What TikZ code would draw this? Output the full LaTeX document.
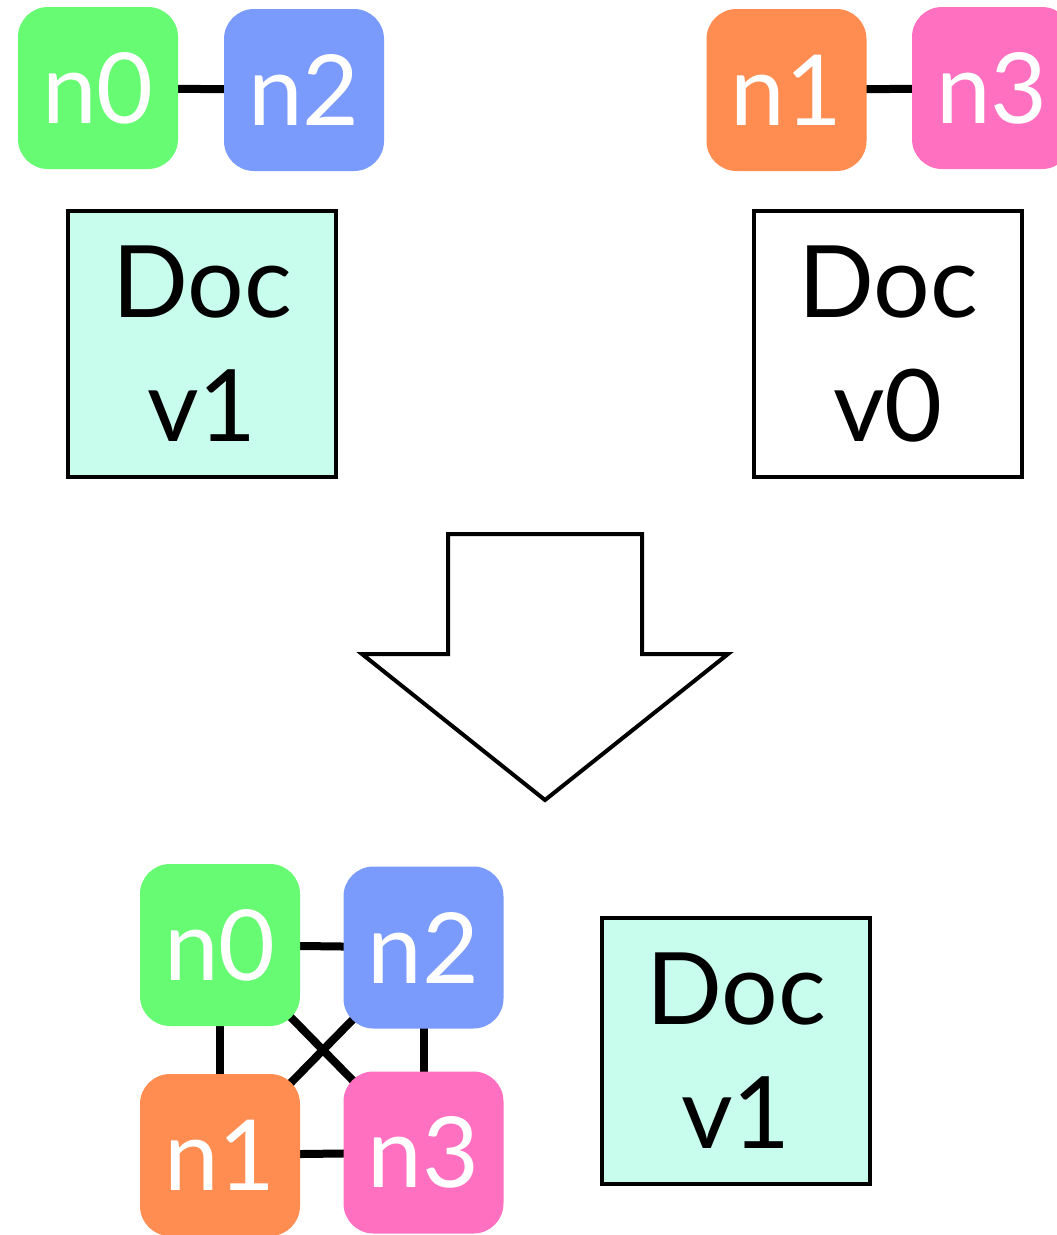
\documentclass[tikz,border=0pt]{standalone}
\usepackage{fontspec}
\setmainfont{Lato}
\usetikzlibrary{backgrounds}

\definecolor{peerA}{HTML}{66FB72}
\definecolor{peerB}{HTML}{7A9BFC}
\definecolor{peerC}{HTML}{FF8C50}
\definecolor{peerD}{HTML}{FF70C0}
\definecolor{docfill}{HTML}{C8FCEC}

\tikzset{
  peer/.style={rectangle, rounded corners=30pt, minimum width=160pt,
    minimum height=162pt, inner sep=0pt, draw=none, text=white,
    font=\fontsize{98}{100}\selectfont},
  docbox/.style={rectangle, draw=black, line width=4.5pt, minimum width=268pt,
    minimum height=266pt, inner sep=0pt, align=center,
    font=\fontsize{100}{124}\selectfont},
  link/.style={draw=black, line width=8pt},
  bigarrow/.style={draw=black, line width=4pt, fill=white, line join=miter}
}

\begin{document}
\begin{tikzpicture}[x=1pt, y=-1pt]
\useasboundingbox (0,0) rectangle (1057,1235);

% upper left: peers n0 and n2 with document v1
\node[peer, fill=peerA] (ta) at (98,88)   {n0};
\node[peer, fill=peerB] (tb) at (304,90)  {n2};
\node[docbox, fill=docfill] (dl) at (202,344) {Doc\\v1};

% upper right: peers n1 and n3 with document v0
\node[peer, fill=peerC] (tc) at (786.5,90) {n1};
\node[peer, fill=peerD] (td) at (992,88)   {n3};
\node[docbox, fill=white] (dr) at (888,344) {Doc\\v0};

% hollow merge arrow
\draw[bigarrow] (448,534) -- (642,534) -- (642,654) -- (728,654)
  -- (545,800) -- (362,654) -- (448,654) -- cycle;

% merged network: all four peers with document v1
\node[peer, fill=peerA] (ba) at (220,945)      {n0};
\node[peer, fill=peerB] (bb) at (423.5,947.5)  {n2};
\node[peer, fill=peerC] (bc) at (220,1155)     {n1};
\node[peer, fill=peerD] (bd) at (423.5,1152.5) {n3};
\node[docbox, fill=docfill] (dm) at (736,1051) {Doc\\v1};

\begin{scope}[on background layer]
  \draw[link] (ta.center) -- (tb.center);
  \draw[link] (tc.center) -- (td.center);
  \draw[link] (ba.center) -- (bb.center);
  \draw[link] (ba.center) -- (bc.center);
  \draw[link] (bb.center) -- (bd.center);
  \draw[link] (bc.center) -- (bd.center);
  \draw[link] (ba.center) -- (bd.center);
  \draw[link] (bb.center) -- (bc.center);
\end{scope}
\end{tikzpicture}
\end{document}
